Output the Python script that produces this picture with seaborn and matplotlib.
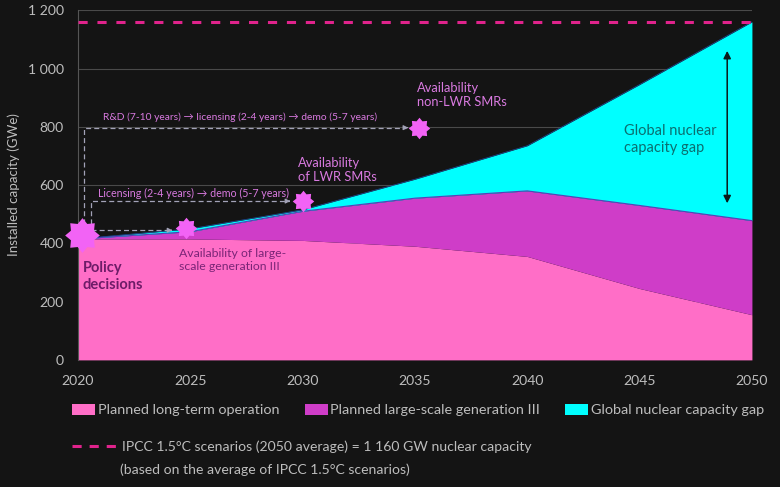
import matplotlib
matplotlib.use("Agg")
import matplotlib.pyplot as plt
from matplotlib.patches import Patch
from matplotlib.lines import Line2D
import numpy as np
import pandas as pd
import seaborn as sns

# data (GWe)
years = [2020, 2025, 2030, 2035, 2040, 2045, 2050]
long_term_operation = [415, 415, 410, 390, 355, 245, 155]
large_scale_gen3 = [0, 25, 100, 165, 225, 285, 323]
capacity_gap = [0, 10, 5, 65, 155, 415, 682]
ipcc_target = 1160

y_ticks = [0, 200, 400, 600, 800, 1000, 1200]
y_tick_labels = ["0", "200", "400", "600", "800", "1 000", "1 200"]
x_ticks = [2020, 2025, 2030, 2035, 2040, 2045, 2050]

# milestones (stars)
star_years = [2020.2, 2024.8, 2030.0, 2035.2]
star_values = [428, 452, 545, 797]
star_sizes = [25, 15.5, 15.5, 15.5]

BG = "#141414"
PINK = "#ff6ec7"
PURPLE = "#cf3dc8"
CYAN = "#00ffff"
STAR = "#f263f5"
VIOLET = "#d97ae0"
DASH_GREY = "#a3a3b8"
TICK = "#bdbdbd"
IPCC = "#e0238c"

sns.set_theme(style="dark", rc={"axes.facecolor": BG, "figure.facecolor": BG})
plt.rcParams["font.family"] = ["Lato", "DejaVu Sans"]
k = 0.88

df = pd.DataFrame({"year": years, "lto": long_term_operation,
                   "gen3": large_scale_gen3, "gap": capacity_gap})
df["top_lto"] = df["lto"]
df["top_gen3"] = df["lto"] + df["gen3"]
df["top_gap"] = df["top_gen3"] + df["gap"]

# 8-point star with shallow points
ang = np.linspace(0, 2 * np.pi, 17)[:-1] + np.pi / 2
rad = np.where(np.arange(16) % 2 == 0, 1.0, 0.72)
star_marker = list(zip(rad * np.cos(ang), rad * np.sin(ang)))

fig = plt.figure(figsize=(7.8, 4.87), dpi=100)
ax = fig.add_axes([0.1, 0.261, 0.864, 0.718])

ax.fill_between(df["year"], 0, df["top_lto"], color=PINK, lw=0, zorder=2)
ax.fill_between(df["year"], df["top_lto"], df["top_gen3"], color=PURPLE, lw=0, zorder=2)
ax.fill_between(df["year"], df["top_gen3"], df["top_gap"], color=CYAN, lw=0, zorder=2)
sns.lineplot(data=df, x="year", y="top_gen3", color="#5b3db8", lw=0.8, ax=ax, zorder=3)
sns.lineplot(data=df, x="year", y="top_gap", color="#1c4fa0", lw=0.5, ax=ax, zorder=3)

ax.axhline(ipcc_target, color=IPCC, lw=2.2, dashes=(3, 3.2), zorder=4)

ax.set_xlim(2020, 2050)
ax.set_ylim(0, 1200)
ax.set_yticks(y_ticks)
ax.set_yticklabels(y_tick_labels)
ax.set_xticks(x_ticks)
ax.grid(axis="y", color="#4a4a4a", lw=0.8, zorder=0)
ax.grid(axis="x", visible=False)
ax.tick_params(colors=TICK, labelsize=11.5 * k, pad=4)
ax.tick_params(axis="x", pad=5)
for s in ["top", "right", "bottom"]:
    ax.spines[s].set_visible(False)
ax.spines["left"].set_color("#555555")
ax.spines["left"].set_linewidth(0.8)
ax.set_xlabel("")
ax.set_ylabel("Installed capacity (GWe)", color=TICK, fontsize=11 * k, labelpad=6)

# dashed timeline paths
dash_kw = dict(color=DASH_GREY, lw=0.9, dashes=(4, 2.5), zorder=5)
ax.plot([2020.25, 2020.25, 2034.6], [440, 797, 797], **dash_kw)
ax.plot([2020.6, 2020.6, 2029.4], [440, 545, 545], **dash_kw)
ax.plot([2020.6, 2024.1], [445, 445], **dash_kw)
for x_end, y_end in [(2034.7, 797), (2029.45, 545), (2024.2, 445)]:
    ax.annotate("", xy=(x_end, y_end), xytext=(x_end - 0.05, y_end),
                arrowprops=dict(arrowstyle="-|>", color=DASH_GREY, lw=0.8,
                                mutation_scale=7), zorder=5)

# stars
for sx, sy, ss in zip(star_years, star_values, star_sizes):
    ax.plot(sx, sy, marker=star_marker, ms=ss, color=STAR, mec=STAR, mew=0,
            zorder=6, clip_on=False)

# annotations
small = 8.4 * k
ax.text(2021.1, 833, "R&D (7-10 years) \u2192 licensing (2-4 years) \u2192 demo (5-7 years)",
        color=VIOLET, fontsize=small, va="center", zorder=7)
ax.text(2020.9, 572, "Licensing (2-4 years) \u2192 demo (5-7 years)",
        color=VIOLET, fontsize=small * 1.03, va="center", zorder=7)
ax.text(2035.1, 908, "Availability\nnon-LWR SMRs", color=VIOLET,
        fontsize=10.6 * k, va="center", linespacing=1.2, zorder=7)
ax.text(2029.8, 651, "Availability\nof LWR SMRs", color=VIOLET,
        fontsize=10.6 * k, va="center", linespacing=1.2, zorder=7)
ax.text(2024.5, 343, "Availability of large-\nscale generation III", color="#7a2577",
        fontsize=10 * k, va="center", linespacing=1.25, zorder=7)
ax.text(2020.2, 286, "Policy\ndecisions", color="#6e1c68", fontsize=12 * k,
        fontweight="bold", va="center", linespacing=1.2, zorder=7)
ax.text(2044.3, 756, "Global nuclear\ncapacity gap", color="#0b6f70",
        fontsize=12 * k, va="center", linespacing=1.25, zorder=7)
ax.annotate("", xy=(2048.9, 1070), xytext=(2048.9, 528),
            arrowprops=dict(arrowstyle="<|-|>", color="#0a1a1a", lw=1.1,
                            mutation_scale=11), zorder=7)

# legends
lfs = 11.5 * 0.9
handles = [Patch(facecolor=PINK, edgecolor="none", label="Planned long-term operation"),
           Patch(facecolor=PURPLE, edgecolor="none", label="Planned large-scale generation III"),
           Patch(facecolor=CYAN, edgecolor="none", label="Global nuclear capacity gap")]
leg1 = fig.legend(handles=handles, loc="center left", bbox_to_anchor=(72 / 780, 1 - 410 / 487),
                  ncol=3, frameon=False, fontsize=lfs, handlelength=1.6,
                  handleheight=0.9, handletextpad=0.2, columnspacing=1.75,
                  borderpad=0, borderaxespad=0, labelcolor=TICK)
ipcc_handle = Line2D([], [], color=IPCC, lw=2.2, dashes=(3, 2.6))
leg2 = fig.legend(handles=[ipcc_handle],
                  labels=["IPCC 1.5\u00b0C scenarios (2050 average) = 1 160 GW nuclear capacity"],
                  loc="center left", bbox_to_anchor=(72 / 780, 1 - 447 / 487), frameon=False,
                  fontsize=11.5 * k, handlelength=3.3, handletextpad=0.25, borderpad=0,
                  borderaxespad=0, labelcolor=TICK)
fig.text(120 / 780, 1 - 470 / 487, "(based on the average of IPCC 1.5\u00b0C scenarios)",
         color=TICK, fontsize=11.5 * k, va="center")

fig.savefig("out.png", dpi=100, facecolor=BG)
